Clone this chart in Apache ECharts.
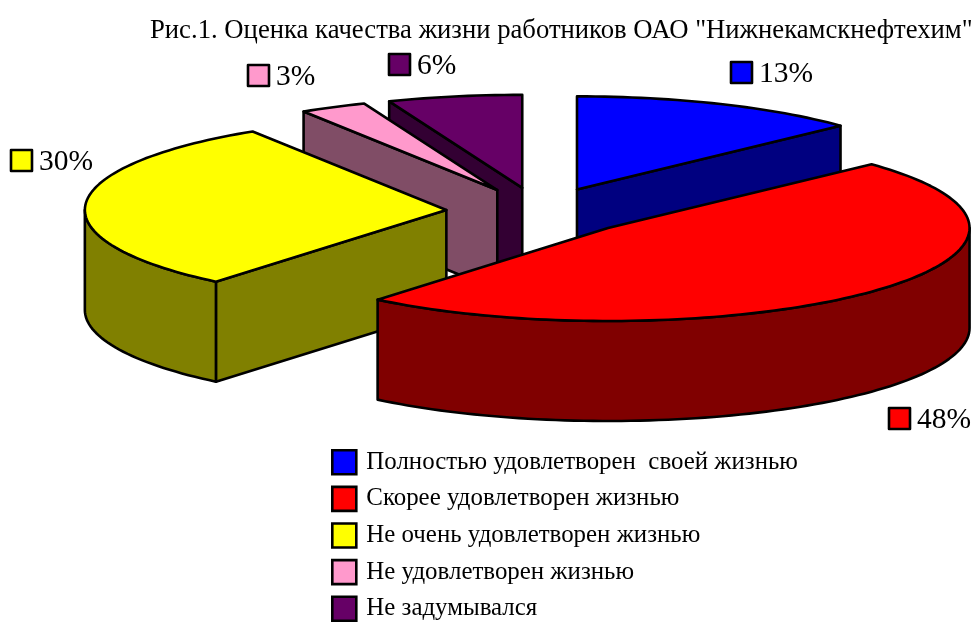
<!DOCTYPE html>
<html><head><meta charset="utf-8">
<style>html,body{margin:0;padding:0;background:#fff}#c{width:976px;height:622px}</style>
<script src="https://cdn.jsdelivr.net/npm/echarts@6/dist/echarts.min.js"></script>
</head><body><div id="c"></div>
<script>
const chartTitle = 'Рис.1. Оценка качества жизни работников ОАО "Нижнекамскнефтехим"';
const categories = ['Полностью удовлетворен  своей жизнью','Скорее удовлетворен жизнью','Не очень удовлетворен жизнью','Не удовлетворен жизнью','Не задумывался'];
const values = [13,48,30,3,6];
const topColors = ['#0000ff','#ff0000','#ffff00','#ff99cc','#660066'];
const sideColors = ['#000080','#800000','#808000','#804d66','#330033'];
const paintOrder = [2,4,3,1,0]; // z rank per slice: purple, pink, blue, yellow, red
const labelKeys = [[731,62],[889,408],[11,150],[248,65],[389,54]];

const FONT = '"Liberation Serif","Times New Roman",serif';
const CX = 539.8, CY = 211.5, RX = 361.5, RY = 93, DEPTH = 100, EXPLODE = 0.259;
const total = values.reduce((a,b)=>a+b,0);
const starts = []; values.reduce((acc,v,i)=>{starts[i]=acc;return acc+v;},0);

function pt(a, deg, r){ const t=deg*Math.PI/180; return [a[0]+r*RX*Math.sin(t), a[1]-r*RY*Math.cos(t)]; }
function down(p){ return [p[0],p[1]+DEPTH]; }
function arc(a,d0,d1){ const out=[]; const n=Math.max(2,Math.ceil((d1-d0)/1.5)); for(let i=0;i<=n;i++) out.push(pt(a,d0+(d1-d0)*i/n,1)); return out; }
const frontFacing = d => Math.cos(d*Math.PI/180) < -1e-6;

function renderSlice(params){
  const i = params.seriesIndex;
  const d0 = starts[i]/total*360, d1 = (starts[i]+values[i])/total*360, mid=(d0+d1)/2;
  const apex = pt([CX,CY],mid,EXPLODE);
  const stroke = {stroke:'#000',lineWidth:2.6,lineJoin:'round'};
  const side = Object.assign({fill:sideColors[i]},stroke);
  const top = Object.assign({fill:topColors[i]},stroke);
  const kids = [];
  const wall = (deg)=>{ const p=pt(apex,deg,1); kids.push({type:'polygon',shape:{points:[apex,p,down(p),down(apex)]},style:side}); };
  if(frontFacing(d0-90)) wall(d0);
  if(frontFacing(d1+90)) wall(d1);
  const f0=Math.max(d0,90), f1=Math.min(d1,270);
  if(f1>f0){ const a=arc(apex,f0,f1); kids.push({type:'polygon',shape:{points:a.concat(a.map(down).reverse())},style:side}); }
  kids.push({type:'polygon',shape:{points:[apex].concat(arc(apex,d0,d1))},style:top});
  const k=labelKeys[i];
  kids.push({type:'rect',shape:{x:k[0],y:k[1],width:21,height:21},style:Object.assign({fill:topColors[i]},stroke)});
  kids.push({type:'text',style:{x:k[0]+28,y:k[1]+12,text:values[i]+'%',font:'29.5px '+FONT,fill:'#000',verticalAlign:'middle',textAlign:'left'}});
  return {type:'group',children:kids};
}

const chart = echarts.init(document.getElementById('c'),null,{renderer:'canvas'});
chart.setOption({
  animation:false,
  backgroundColor:'#fff',
  title:{text:chartTitle,left:150,top:17,padding:0,textStyle:{fontFamily:FONT,fontSize:26.7,fontWeight:'normal',color:'#000'}},
  legend:{
    data:categories,orient:'vertical',left:331,top:449,padding:0,itemWidth:24,itemHeight:24,itemGap:10,
    icon:'rect',selectedMode:false,
    itemStyle:{borderColor:'#000',borderWidth:2.6},
    textStyle:{fontFamily:FONT,fontSize:24.9,lineHeight:22,color:'#000',padding:[4,0,0,5]}
  },
  series:categories.map((name,i)=>({
    type:'custom',name,coordinateSystem:'none',z:2+paintOrder[i],silent:true,
    itemStyle:{color:topColors[i]},
    data:[values[i]],renderItem:renderSlice
  }))
});
</script></body></html>
